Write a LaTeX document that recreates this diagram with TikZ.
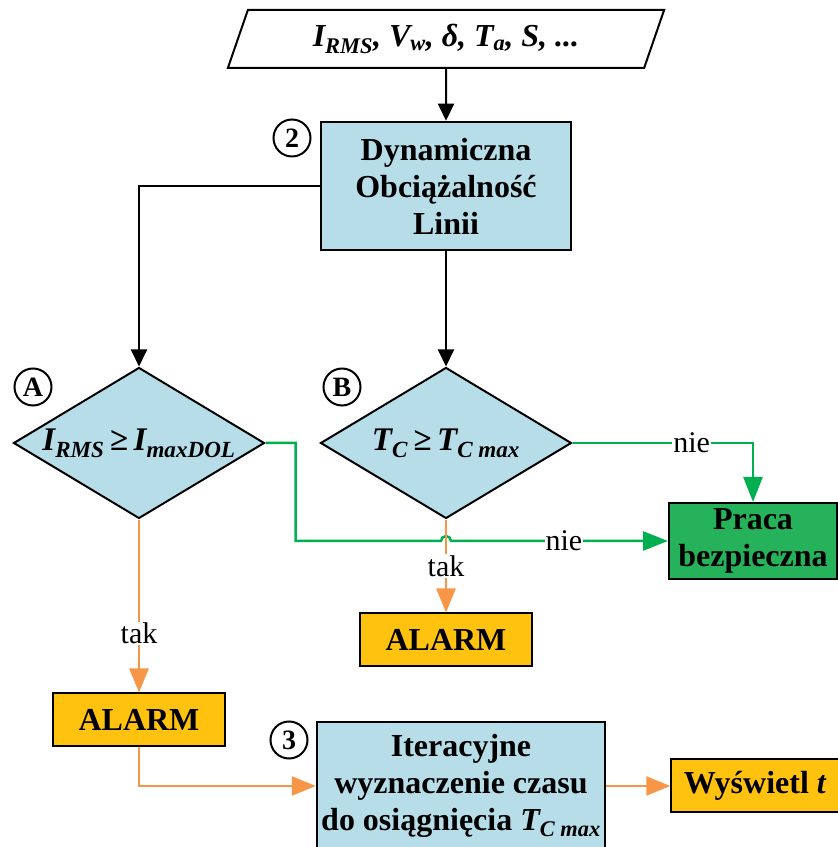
\documentclass[tikz,border=0pt]{standalone}
\usepackage{fontspec}
\setmainfont{Liberation Serif}
\usetikzlibrary{positioning, arrows.meta, shapes.geometric}
\definecolor{boxblue}{RGB}{183,221,232}
\definecolor{alarmyellow}{RGB}{255,194,14}
\definecolor{safegreen}{RGB}{38,178,90}
\definecolor{linegreen}{RGB}{0,176,80}
\definecolor{lineorange}{RGB}{247,150,70}

\begin{document}
\begin{tikzpicture}[
    x=1pt, y=1pt,
    node distance=64pt,
    every node/.style={font=\bfseries\fontsize{32}{37}\selectfont},
    inbox/.style={trapezium, trapezium left angle=65, trapezium right angle=115, trapezium stretches=true, draw, line width=2pt, minimum width=437pt, minimum height=58pt, inner sep=0pt, font=\bfseries\itshape\fontsize{32}{37}\selectfont},
    box/.style={rectangle, draw, line width=2.5pt, fill=boxblue, align=center, inner sep=0pt},
    dec/.style={diamond, draw, line width=2pt, fill=boxblue, minimum width=251pt, minimum height=151pt, inner sep=0pt, font=\bfseries\itshape\fontsize{33}{37}\selectfont},
    alarm/.style={rectangle, draw, line width=2pt, fill=alarmyellow, minimum width=172pt, minimum height=53pt, inner sep=0pt},
    num/.style={circle, draw, line width=2pt, minimum size=37pt, inner sep=0pt, font=\bfseries\fontsize{28}{28}\selectfont},
    lbl/.style={fill=white, text=black, inner sep=1pt, font=\normalfont\fontsize{30}{30}\selectfont},
    arrow/.style={-{Triangle[length=17pt, width=16pt]}, line width=2pt},
    garrow/.style={-{Triangle[length=25pt, width=19pt]}, line width=2.5pt, draw=linegreen, color=linegreen},
    oarrow/.style={-{Triangle[length=24pt, width=19pt]}, line width=2.5pt, draw=lineorange, color=lineorange}
  ]
    \useasboundingbox (0,0) rectangle (838,847);

    \node[inbox] (in) at (446,808) {I\textsubscript{RMS}, V\textsubscript{w}, δ, T\textsubscript{a}, S, ...};
    \node[box, minimum width=250pt, minimum height=128pt] (dyn) at (446,661) {Dynamiczna\\Obciążalność\\Linii};
    \node[num] (n2) at (292,709) {2};

    \node[dec] (decA) at (139,404) {\makebox[0pt]{I\textsubscript{RMS}\,\upshape≥\,\itshape I\textsubscript{maxDOL}}};
    \node[num] (nA) at (33,460) {A};
    \node[dec] (decB) at (446,404) {\makebox[0pt]{T\textsubscript{C}\,\upshape≥\,\itshape T\textsubscript{C max}}};
    \node[num] (nB) at (342,460) {B};

    \node[box, fill=safegreen, line width=2pt, minimum width=168pt, minimum height=76pt] (safe) at (753,306) {Praca\\bezpieczna};
    \node[alarm, below=93pt of decB] (alarmB) {ALARM};
    \node[alarm] (alarmA) at (139,127) {ALARM};

    \node[box, minimum width=288pt, minimum height=128pt] (iter) at (461,61) {Iteracyjne\\wyznaczenie czasu\\do osiągnięcia \textit{T\textsubscript{C max}}};
    \node[num] (n3) at (289,107) {3};
    \node[alarm, minimum width=168pt, right=of iter] (show) {Wyświetl \textit{t}};

    \draw[arrow] (in) -- (dyn);
    \draw[arrow] (dyn.west) -| (decA.north);
    \draw[arrow] (dyn) -- (decB);
    \draw[garrow] (decA.east) -- ++(30,0) |- ([xshift=-5pt]decB.south |- safe.west) arc[start angle=180, end angle=0, radius=5pt] -- node[lbl, pos=0.52] {nie} (safe.west);
    \draw[garrow] (decB.east) -| node[lbl, pos=0.33] {nie} (safe.north);
    \draw[oarrow] (decB) -- node[lbl] {tak} (alarmB);
    \draw[oarrow] (decA) -- node[lbl, pos=0.66] {tak} (alarmA);
    \draw[oarrow] (alarmA.south) |- (iter.west);
    \draw[oarrow] (iter) -- (show);
  \end{tikzpicture}
\end{document}
